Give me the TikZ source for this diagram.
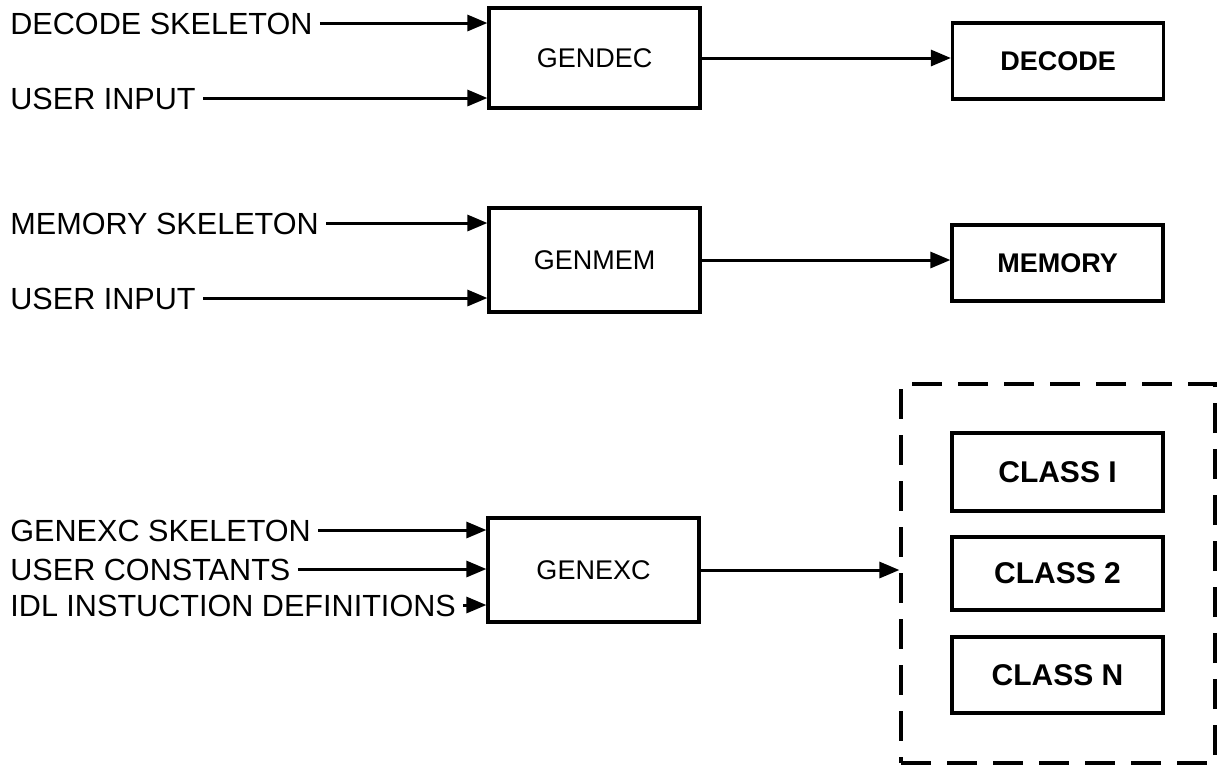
\documentclass[tikz,border=0pt]{standalone}
\usepackage{fontspec}
\setmainfont{Liberation Sans}
\usetikzlibrary{arrows.meta}
\begin{document}
\begin{tikzpicture}[x=0.5pt,y=-0.5pt,
  lbl/.style={anchor=west, inner xsep=3.5pt, inner ysep=0pt, text height=11pt, text depth=0pt, font=\fontsize{15.3}{18}\selectfont},
  blk/.style={draw, line width=1.6pt, minimum width=105.5pt, inner sep=0pt, font=\fontsize{13.5}{16}\selectfont},
  res/.style={blk, font=\fontsize{13.5}{16}\selectfont\bfseries},
  cls/.style={draw, line width=1.6pt, minimum width=105.5pt, inner sep=0pt, font=\fontsize{15}{18}\selectfont\bfseries},
  grp/.style={draw, line width=1.6pt, dash pattern=on 15pt off 8pt, minimum width=157pt, minimum height=189.5pt, inner sep=0pt},
  arr/.style={line width=1.5pt, -{Triangle[length=10pt,width=8pt]}}]
\useasboundingbox (0,0) rectangle (1220,768);

% row 1
\node[blk, minimum height=50pt] (gendec) at (594.5,58) {GENDEC};
\node[res, minimum height=38pt] (decode) at (1058,61) {DECODE};
\node[lbl] (l1) at (3,23) {DECODE SKELETON};
\node[lbl] (l2) at (3,98) {USER INPUT};
\draw[arr] (l1.east) -- (l1.east -| gendec.west);
\draw[arr] (l2.east) -- (l2.east -| gendec.west);
\draw[arr] (gendec.east) -- (gendec.east -| decode.west);

% row 2
\node[blk, minimum height=52pt] (genmem) at (594.5,260) {GENMEM};
\node[res, minimum height=38pt] (memory) at (1057.5,263) {MEMORY};
\node[lbl] (l3) at (3,223) {MEMORY SKELETON};
\node[lbl] (l4) at (3,298) {USER INPUT};
\draw[arr] (l3.east) -- (l3.east -| genmem.west);
\draw[arr] (l4.east) -- (l4.east -| genmem.west);
\draw[arr] (genmem.east) -- (genmem.east -| memory.west);

% row 3
\node[blk, minimum height=52pt] (genexc) at (593.5,570) {GENEXC};
\node[grp] (group) at (1058,573.5) {};
\node[cls, minimum height=39pt] (c1) at (1057.5,472) {CLASS I};
\node[cls, minimum height=36.5pt] (c2) at (1057.5,573.5) {CLASS 2};
\node[cls, minimum height=38pt] (cn) at (1057.5,675) {CLASS N};
\node[lbl] (l5) at (3,530) {GENEXC SKELETON};
\node[lbl] (l6) at (3,569) {USER CONSTANTS};
\node[lbl] (l7) at (3,605) {IDL INSTUCTION DEFINITIONS};
\draw[arr] (l5.east) -- (l5.east -| genexc.west);
\draw[arr] (l6.east) -- (l6.east -| genexc.west);
\draw[arr] (l7.east) -- (l7.east -| genexc.west);
\draw[arr] (genexc.east) -- (genexc.east -| group.west);
\end{tikzpicture}
\end{document}
